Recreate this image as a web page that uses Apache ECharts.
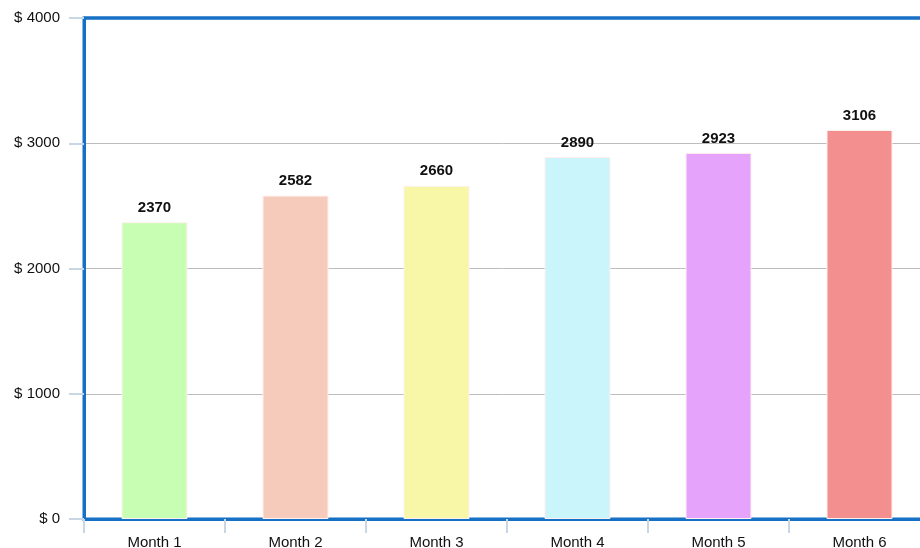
<!DOCTYPE html>
<html><head><meta charset="utf-8">
<script src="https://cdn.jsdelivr.net/npm/echarts@6/dist/echarts.min.js"></script>
<style>html,body{margin:0;padding:0;background:#fff;overflow:hidden}#c{width:920px;height:548px}</style>
</head><body><div id="c"></div>
<script>
const categories = ['Month 1','Month 2','Month 3','Month 4','Month 5','Month 6'];
const values = [2370, 2582, 2660, 2890, 2923, 3106];
const barColors = ['#c8fdb4','#f7cbbb','#f8f7a8','#c9f5fb','#e6a3fb','#f48f8f'];
const yTicks = [0, 1000, 2000, 3000, 4000];

const chart = echarts.init(document.getElementById('c'), null, {renderer:'canvas'});
chart.setOption({
  animation:false,
  grid:{left:84, width:846, top:18, bottom:29, show:true, borderColor:'#1670c6', borderWidth:3, containLabel:false, outerBoundsMode:'none'},
  xAxis:{type:'category', data:categories,
    axisLine:{lineStyle:{color:'#1670c6', width:3}},
    axisTick:{show:true, length:14, lineStyle:{color:'#c9d6e6', width:2}},
    axisLabel:{color:'#111', fontSize:15, fontFamily:'Liberation Sans, Arial', margin:16}
  },
  yAxis:{type:'value', min:yTicks[0], max:yTicks[yTicks.length-1], interval:1000,
    axisLine:{show:true, lineStyle:{color:'#1670c6', width:3}},
    axisTick:{show:true, length:15, lineStyle:{color:'#c9d6e6', width:2}},
    splitLine:{showMaxLine:false, showMinLine:false, lineStyle:{color:'#bdbdbd', width:1}},
    axisLabel:{color:'#111', fontSize:15, fontFamily:'Liberation Sans, Arial', margin:24, formatter:v=>'$ '+v}
  },
  graphic:[{type:'line', z:100, shape:{x1:84, y1:18, x2:920, y2:18}, style:{stroke:'#1670c6', lineWidth:3}}],
  series:[{type:'bar', barWidth:66,
    data:values.map((v,i)=>({value:v, itemStyle:{color:barColors[i], borderColor:'#fff0f0', borderWidth:1}})),
    label:{show:true, position:'top', distance:7, color:'#111', fontWeight:'bold', fontSize:15, fontFamily:'Liberation Sans, Arial'}
  }]
});
</script></body></html>
